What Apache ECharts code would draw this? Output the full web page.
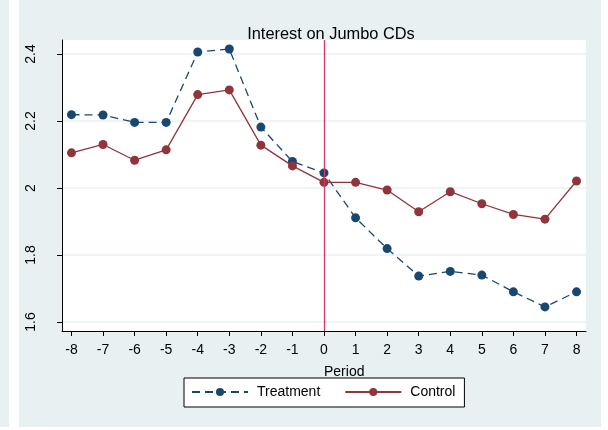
<!DOCTYPE html>
<html>
<head>
<meta charset="utf-8">
<script src="https://cdn.jsdelivr.net/npm/echarts@6/dist/echarts.min.js"></script>
<style>
  html, body { margin: 0; padding: 0; background: #ffffff; }
  #wrap { position: relative; width: 608px; height: 430px; }
  .strip { position: absolute; background: #e8f0f2; }
  #chart { position: absolute; left: 19px; top: 0; width: 582px; height: 427px; }
</style>
</head>
<body>
<div id="wrap">
  <div class="strip" style="left:0;top:0;width:9px;height:427px;"></div>
  <div id="chart"></div>
</div>
<script>
// Interest on Jumbo CDs, by period relative to the event (period 0)
const periods = [-8, -7, -6, -5, -4, -3, -2, -1, 0, 1, 2, 3, 4, 5, 6, 7, 8];
const treatment = [2.219, 2.218, 2.196, 2.196, 2.406, 2.415, 2.182, 2.079, 2.045,
                   1.911, 1.819, 1.737, 1.751, 1.740, 1.690, 1.645, 1.690];
const control = [2.105, 2.130, 2.083, 2.114, 2.279, 2.293, 2.128, 2.066, 2.017,
                 2.017, 1.994, 1.929, 1.989, 1.953, 1.921, 1.907, 2.021];
const yTicks = [1.6, 1.8, 2.0, 2.2, 2.4];
const xTicks = periods;
const eventPeriod = 0;

const OFFX = 19; // chart div offset inside the page
const font = 'Liberation Sans, Arial, Helvetica, sans-serif';
const navy = '#1a476f';
const maroon = '#90353b';

const chart = echarts.init(document.getElementById('chart'), null, { renderer: 'canvas' });

const pairs = (ys) => periods.map((p, i) => [p, ys[i]]);

chart.setOption({
  animation: false,
  backgroundColor: '#e8f0f2',
  textStyle: { fontFamily: font },
  title: {
    text: 'Interest on Jumbo CDs',
    left: 326 - OFFX,
    top: 21,
    textAlign: 'center',
    textStyle: { fontFamily: font, fontSize: 16.4, fontWeight: 'normal', color: '#000' }
  },
  grid: {
    left: 62 - OFFX,
    right: 601 - 586,
    top: 40,
    bottom: 427 - 331,
    show: true,
    backgroundColor: '#ffffff',
    borderWidth: 0
  },
  xAxis: {
    type: 'value',
    min: -8.3,
    max: 8.3,
    axisLine: { show: true, onZero: false, lineStyle: { color: '#000', width: 1 } },
    axisTick: { show: true, length: 5, customValues: xTicks, lineStyle: { color: '#000' } },
    axisLabel: { customValues: xTicks, margin: 12, fontSize: 14, color: '#000', fontFamily: font },
    splitLine: { show: false }
  },
  yAxis: {
    type: 'value',
    min: 1.573,
    max: 2.442,
    axisLine: { show: true, onZero: false, lineStyle: { color: '#000', width: 1 } },
    axisTick: { show: true, length: 5, customValues: yTicks, lineStyle: { color: '#000' } },
    axisLabel: {
      customValues: yTicks, rotate: 90, margin: 24, fontSize: 14, color: '#000', fontFamily: font,
      formatter: (v) => String(Math.round(v * 10) / 10)
    },
    splitLine: { show: true, lineStyle: { color: '#eaf2f3', width: 1.5 } }
  },
  graphic: [{
    type: 'text',
    left: 345 - OFFX - 21,
    top: 365,
    style: { text: 'Period', font: '14px ' + font, fill: '#000' }
  }],
  legend: {
    left: 184 - OFFX,
    top: 378,
    orient: 'horizontal',
    backgroundColor: '#ffffff',
    borderColor: '#000',
    borderWidth: 1,
    borderRadius: 0,
    padding: [7, 9, 8, 7],
    itemWidth: 56,
    itemHeight: 10,
    itemGap: 24,
    textStyle: { fontSize: 14, color: '#000', fontFamily: font, padding: [0, 0, 0, 4] },
    data: ['Treatment', 'Control']
  },
  series: [
    {
      name: 'Treatment',
      type: 'line',
      data: pairs(treatment),
      symbol: 'circle',
      symbolSize: 9,
      itemStyle: { color: navy },
      lineStyle: { color: navy, width: 1.3, type: [8, 5] },
      z: 3,
      markLine: {
        silent: true,
        symbol: ['none', 'none'],
        label: { show: false },
        lineStyle: { color: '#d63766', width: 1.3, type: 'solid' },
        data: [{ xAxis: eventPeriod }]
      }
    },
    {
      name: 'Control',
      type: 'line',
      data: pairs(control),
      symbol: 'circle',
      symbolSize: 9,
      itemStyle: { color: maroon },
      lineStyle: { color: maroon, width: 1.3 },
      z: 4
    }
  ]
});
</script>
</body>
</html>
